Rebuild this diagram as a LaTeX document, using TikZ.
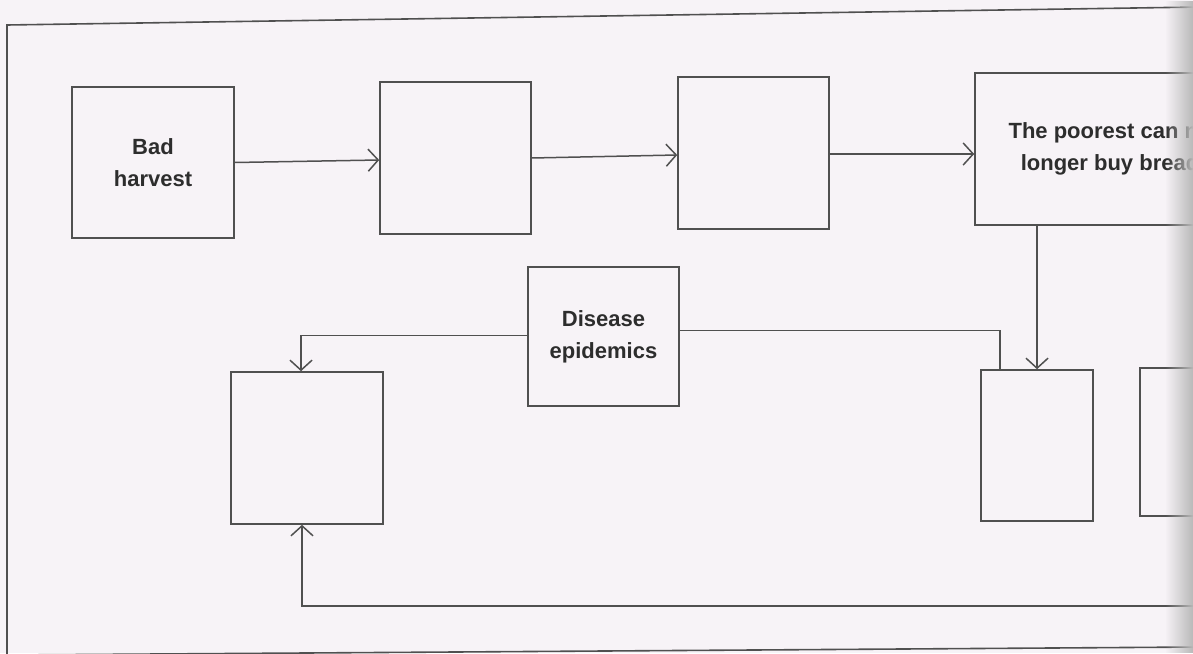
\documentclass[tikz,border=0pt]{standalone}
\usepackage{fontspec}
\setmainfont{Liberation Sans}
\usetikzlibrary{arrows.meta,fadings,calc}
\definecolor{paper}{RGB}{247,243,247}
\definecolor{ink}{RGB}{80,80,80}
\definecolor{txt}{RGB}{45,45,45}
\tikzfading[name=gutter, left color=transparent!100, right color=transparent!0]
\tikzset{
  box/.style={draw=ink, line width=1.6pt, rectangle, inner sep=0pt, align=center,
    text=txt, font=\bfseries\fontsize{22}{32}\selectfont},
  link/.style={draw=ink, line width=1.5pt},
  arr/.style={link, -{Straight Barb[length=10pt,width=22pt,line width=1.5pt]}},
  frame/.style={draw=ink, line width=1.6pt}
}
\begin{document}
\begin{tikzpicture}[x=1pt,y=-1pt]
\clip (0,0) rectangle (1193,653);
\fill[paper] (0,0) rectangle (1193,653);
% outer frame
\draw[frame] (7,655) -- (7,25) -- (1200,7);
\draw[frame] (7,655) -- (1200,647);
% boxes
\node[box, minimum width=162pt, minimum height=151pt] (b1) at (153,162.5) {Bad\\harvest};
\node[box, minimum width=151pt, minimum height=152pt] (b2) at (455.5,158) {};
\node[box, minimum width=151pt, minimum height=152pt] (b3) at (753.5,153) {};
\node[box, minimum width=270pt, minimum height=152pt] (b4) at (1110,149) {The poorest can no\\longer buy bread};
\node[box, minimum width=151pt, minimum height=139pt] (dis) at (603.5,336.5) {Disease\\epidemics};
\node[box, minimum width=152pt, minimum height=152pt] (ll) at (307,448) {};
\node[box, minimum width=112pt, minimum height=151pt] (rl) at (1037,445.5) {};
\node[box, minimum width=112pt, minimum height=148pt] (fr) at (1196,442) {};
\coordinate (fb) at (1200,606);
% connectors
\draw[arr] (b1.east) -- ([yshift=-2pt]b2.west);
\draw[arr] (b2.east) -- ([yshift=-2pt]b3.west);
\draw[arr] ([yshift=-1pt]b3.east) -- ([yshift=-5pt]b4.west);
\draw[arr] (b4.south -| rl.north) -- (rl.north);
\draw[arr] ([yshift=1pt]dis.west) -| ([xshift=-6pt]ll.north);
\draw[link] ([yshift=6pt]dis.east) -| ([xshift=-37pt]rl.north);
\draw[arr] (fb) -| ([xshift=-5pt]ll.south);
% page gutter shadow
\fill[gray!55, path fading=gutter] (1165,0) rectangle (1193,653);
\end{tikzpicture}
\end{document}
